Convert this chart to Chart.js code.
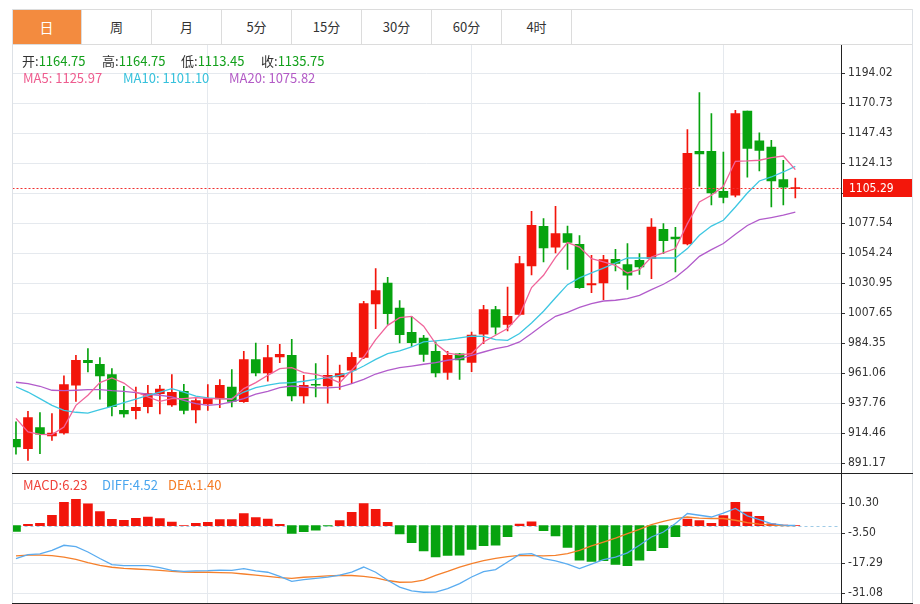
<!DOCTYPE html>
<html>
<head>
<meta charset="utf-8">
<script src="https://cdn.jsdelivr.net/npm/chart.js@4.4.0/dist/chart.umd.min.js"></script>
<style>
  body { margin:0; width:920px; height:604px; overflow:hidden; position:relative; background:#fff;
         font-family:"Noto Sans CJK SC","Noto Sans",sans-serif; }
  .ln { position:absolute; }
  .tab { position:absolute; top:10px; height:34px; width:69px; border-right:1px solid #dcdcdc;
         text-align:center; line-height:34px; font-size:13px; color:#333; }
  .tab.on { background:#f38b3f; color:#fff; font-size:14px; }
  .info { position:absolute; font-size:13px; line-height:16px; white-space:nowrap; color:#333; }
  canvas { position:absolute; left:0; }
</style>
</head>
<body>
<div id="tabs"></div>
<canvas id="price" width="920" height="429" style="top:44px"></canvas>
<canvas id="macd" width="920" height="129" style="top:474px"></canvas>
<div id="overlay"></div>
<script>
// tabs
const tabNames = ["日", "周", "月", "5分", "15分", "30分", "60分", "4时"];

// daily candles
const opens  = [909.8,902.6,918.9,912.4,914.7,951.8,971.2,968.1,960.1,932.3,932.1,935.2,945.3,936.5,947.1,932.6,937.2,941.1,950.4,939.1,
                971.7,961.3,973.7,975.0,943.4,952.5,951.2,958.2,963.4,973.3,1014.9,1031.2,1011.8,992.9,988.5,978.2,961.8,976.1,969.6,991.4,
                1010.5,999.1,1006.7,1044.4,1075.2,1059.1,1069.5,1061.2,1029.6,1031.2,1049.6,1045.5,1048.8,1050.1,1072.9,1066.9,1061.5,1133.5,1133.5,1102.4,
                1099.3,1164.75,1141.5,1136.8,1111.5,1104.5];
const highs  = [923.3,931.6,930.6,929.8,959.0,975.0,980.3,973.3,964.7,951.0,950.4,951.8,951.8,960.1,952.5,941.4,952.3,956.2,963.9,978.2,
                984.6,982.8,983.6,987.5,959.5,968.6,975.0,967.5,977.1,1017.0,1042.4,1035.6,1017.5,1005.1,990.6,985.4,978.2,976.5,993.1,1013.9,
                1013.1,1028.1,1051.9,1086.9,1081.2,1090.7,1075.4,1068.0,1052.7,1052.7,1057.4,1061.8,1054.0,1081.2,1077.3,1074.4,1150.3,1179.0,1162.7,1132.9,
                1165.3,1164.75,1147.7,1142.0,1126.5,1112.7];
const lows   = [898.2,893.5,898.7,909.0,913.8,939.3,962.1,940.9,927.9,926.9,925.6,930.2,929.5,935.4,929.5,922.5,932.3,934.4,934.9,938.5,
                959.0,954.9,969.4,939.6,937.8,942.7,937.8,948.6,953.1,972.5,995.8,999.1,984.6,982.0,970.2,958.2,956.4,956.4,962.4,984.1,
                991.4,993.9,1006.0,1037.4,1047.5,1054.6,1041.8,1027.0,1023.7,1018.3,1040.5,1026.1,1037.9,1034.6,1054.0,1039.7,1060.8,1106.3,1091.8,1093.3,
                1098.0,1113.45,1118.2,1090.2,1091.8,1097.2];
const closes = [903.8,926.7,913.7,914.7,952.3,971.2,969.4,959.0,935.2,929.5,934.7,945.3,948.9,946.3,932.3,939.9,941.1,951.8,939.3,971.7,
                961.3,973.3,975.8,943.4,951.8,951.8,959.5,960.8,973.5,1015.2,1025.3,1007.4,991.1,984.9,975.8,961.3,975.0,971.4,990.8,1010.5,
                996.8,1005.3,1046.3,1076.0,1058.4,1069.5,1062.6,1027.6,1030.7,1049.4,1046.3,1037.2,1043.6,1074.7,1064.1,1065.4,1131.9,1131.4,1101.1,1097.7,
                1162.7,1135.75,1134.2,1110.4,1105.5,1105.29];

// moving averages
const ma5  = [926.1,915.5,913.7,913.5,919.4,936.2,944.0,953.8,957.4,953.5,946.5,942.7,939.3,941.4,941.4,942.2,941.4,941.4,940.9,949.2,
              953.8,959.5,964.7,965.5,961.6,960.3,957.7,953.8,963.4,973.7,987.2,998.3,1004.3,1005.3,997.6,984.1,976.8,975.3,976.4,985.4,
              990.6,995.8,1006.1,1027.6,1037.2,1051.1,1062.6,1059.1,1050.1,1047.5,1044.9,1039.0,1041.6,1051.4,1054.5,1057.9,1077.3,1094.1,1099.3,1106.3,
              1125.7,1125.97,1126.5,1128.6,1129.8,1119.2];
const ma10 = [950.6,946.5,941.4,936.2,932.3,930.8,930.2,932.9,935.4,938.3,941.1,944.0,946.5,949.2,946.5,943.4,941.9,941.4,941.4,946.5,
              950.0,951.8,953.5,953.8,954.9,956.4,957.7,959.5,962.1,966.7,971.9,976.4,978.4,981.5,985.4,986.2,987.2,988.5,990.0,989.8,
              987.2,986.7,991.9,1000.1,1009.2,1019.7,1029.9,1035.1,1039.0,1042.8,1046.7,1050.6,1050.6,1050.6,1050.6,1050.6,1057.9,1068.2,1075.4,1079.9,
              1090.2,1101.10,1110.4,1113.5,1117.4,1121.8];
const ma20 = [954.1,953.1,951.0,947.9,947.6,947.9,948.4,948.4,947.6,947.1,946.1,944.8,944.0,942.7,940.1,937.5,936.2,937.0,938.8,941.4,
              944.8,947.1,950.0,951.2,950.4,949.7,949.7,950.4,953.1,956.4,960.5,963.4,965.5,966.7,968.1,969.4,971.2,972.5,975.0,977.6,
              980.3,982.0,985.4,991.9,998.9,1005.3,1008.4,1012.3,1015.2,1017.2,1017.8,1019.1,1021.6,1026.1,1030.2,1035.4,1043.1,1051.9,1057.1,1061.8,
              1069.0,1075.82,1080.4,1082.0,1083.8,1086.3];

// MACD
const macdHist = [-2.6,0.6,1.1,4.8,10.8,12.1,10.0,6.5,2.9,2.5,3.4,4.0,3.3,1.7,0.1,1.1,1.6,2.8,2.8,5.6,
                  3.7,3.1,0.6,-3.6,-2.7,-2.0,-0.1,2.3,6.2,10.2,7.5,1.6,-3.8,-7.8,-11.6,-14.3,-13.7,-13.5,-10.9,-9.2,
                  -9.0,-5.1,0.7,1.8,-2.3,-4.7,-10.0,-15.8,-16.4,-16.1,-17.8,-18.4,-15.8,-11.5,-10.1,-5.1,3.0,2.4,1.1,4.6,
                  10.7,6.23,4.3,0.9,0.3,0.1];
const diff = [-15.1,-13.3,-13.0,-11.3,-9.0,-9.6,-12.1,-15.1,-17.9,-18.4,-18.4,-18.4,-19.3,-20.5,-21.0,-20.8,-20.7,-20.4,-20.5,-19.7,
              -20.8,-21.4,-23.3,-25.6,-24.8,-24.2,-23.6,-22.7,-21.3,-19.0,-21.4,-25.1,-28.2,-30.0,-30.6,-30.5,-28.9,-26.6,-23.6,-21.1,
              -20.2,-16.7,-13.2,-12.8,-15.1,-16.2,-17.7,-19.7,-17.7,-15.6,-14.4,-12.5,-9.0,-5.2,-2.9,1.0,5.6,4.8,4.0,5.8,
              7.9,4.52,2.8,1.0,0.3,0.1];
const dea  = [-13.9,-13.5,-13.5,-13.8,-14.4,-15.5,-17.0,-18.2,-19.1,-19.6,-19.9,-20.2,-20.5,-21.0,-21.3,-21.4,-21.4,-21.6,-21.7,-22.2,
              -22.7,-23.3,-23.9,-24.2,-23.7,-23.4,-23.1,-22.9,-22.9,-23.3,-24.0,-25.2,-26.0,-25.9,-25.0,-22.8,-21.0,-19.0,-17.4,-16.1,
              -15.0,-14.2,-13.6,-13.8,-13.9,-13.6,-12.8,-11.3,-9.3,-7.5,-5.7,-3.6,-1.7,0.5,2.0,3.3,4.0,3.5,3.3,3.3,
              2.5,1.40,0.7,0.3,0.1,0.05];

// axes
const priceTicks = [891.17,914.46,937.76,961.06,984.35,1007.65,1030.95,1054.24,1077.54,1100.84,1124.13,1147.43,1170.73,1194.02];
const priceTickLabels = ["891.17","914.46","937.76","961.06","984.35","1007.65","1030.95","1054.24","1077.54","1100.84","1124.13","1147.43","1170.73","1194.02"];
const macdTicks = [-31.08,-17.29,-3.50,10.30];
const macdTickLabels = ["-31.08","-17.29","-3.50","10.30"];
const monthStarts = [16, 38, 59];
const shownIndex = 61;

const UP = "#f2150b", DOWN = "#07a30f";
const GRID = "#e5e9ee";
const AXIS_FONT = "'DejaVu Sans Condensed','DejaVu Sans',sans-serif";
Chart.defaults.font.family = AXIS_FONT;
Chart.defaults.font.size = 12;
Chart.defaults.color = "#333";

// page chrome
const lines = [
  [12, 9, 900, 1, "#dcdcdc"], [12, 44, 900, 1, "#dcdcdc"],
  [12, 9, 1, 595, "#dde1e6"], [912, 9, 1, 595, "#dde1e6"],
  [12, 473, 901, 1, "#222"], [12, 603, 901, 1, "#222"]
];
const tabs = document.getElementById("tabs");
tabNames.forEach((t, i) => {
  const d = document.createElement("div");
  d.className = "tab" + (i === 0 ? " on" : "");
  d.style.left = (12 + i * 70) + "px";
  d.textContent = t;
  tabs.appendChild(d);
});
lines.forEach(l => {
  const d = document.createElement("div");
  d.className = "ln";
  d.style.cssText = `left:${l[0]}px;top:${l[1]}px;width:${l[2]}px;height:${l[3]}px;background:${l[4]}`;
  document.body.appendChild(d);
});

// header texts (values of the highlighted candle)
const overlay = document.getElementById("overlay");
function label(x, y, parts) {
  const d = document.createElement("div");
  d.className = "info";
  d.style.left = x + "px";
  d.style.top = y + "px";
  parts.forEach(p => {
    const s = document.createElement("span");
    s.textContent = p[0];
    s.style.color = p[1];
    d.appendChild(s);
  });
  overlay.appendChild(d);
}
const G = "#13a01b";
label(22, 53, [["开:", "#333"], [opens[shownIndex].toFixed(2), G]]);
label(102, 53, [["高:", "#333"], [highs[shownIndex].toFixed(2), G]]);
label(181, 53, [["低:", "#333"], [lows[shownIndex].toFixed(2), G]]);
label(261, 53, [["收:", "#333"], [closes[shownIndex].toFixed(2), G]]);
label(23, 70, [["MA5: " + ma5[shownIndex].toFixed(2), "#ee5c8f"]]);
label(123, 70, [["MA10: " + ma10[shownIndex].toFixed(2), "#36c1dc"]]);
label(229, 70, [["MA20: " + ma20[shownIndex].toFixed(2), "#b35bc6"]]);
label(23, 477, [["MACD:" + macdHist[shownIndex].toFixed(2), "#f0423a"]]);
label(102, 477, [["DIFF:" + diff[shownIndex].toFixed(2), "#4aa6ee"]]);
label(168, 477, [["DEA:" + dea[shownIndex].toFixed(2), "#f57a22"]]);

const idx = closes.map((c, i) => i);
const candleColors = closes.map((c, i) => c >= opens[i] ? UP : DOWN);

function xScale() {
  return {
    type: "linear", min: -0.29, max: 68.81, offset: false,
    grid: { color: GRID, drawTicks: false, offset: false },
    border: { display: false },
    ticks: { display: false },
    afterBuildTicks: s => { s.ticks = monthStarts.map(v => ({ value: v })); },
    afterFit: s => { s.height = 0; }
  };
}
function yScale(min, max, ticks, labels) {
  return {
    position: "right", min: min, max: max, stacked: false,
    grid: { color: GRID, tickColor: "#333", tickLength: 4 },
    border: { color: "#222" },
    ticks: { padding: 3, callback: (v, i) => labels[i] },
    afterBuildTicks: s => { s.ticks = ticks.map(v => ({ value: v })); },
    afterFit: s => { s.width = 79; s.paddingTop = 0; s.paddingBottom = 0; }
  };
}
function lineSet(values, color) {
  return {
    type: "line", data: idx.map(i => ({ x: i, y: values[i] })),
    borderColor: color, borderWidth: 1.3, pointRadius: 0, tension: 0, order: 0, clip: 0
  };
}

const lastPrice = {
  id: "lastPrice",
  afterDraw(chart) {
    const { ctx, chartArea, scales } = chart;
    const last = closes[closes.length - 1];
    const y = Math.round(scales.y.getPixelForValue(last)) + 0.5;
    ctx.save();
    ctx.strokeStyle = "#f03030";
    ctx.lineWidth = 1;
    ctx.setLineDash([2, 2]);
    ctx.beginPath();
    ctx.moveTo(chartArea.left, y);
    ctx.lineTo(chartArea.right, y);
    ctx.stroke();
    ctx.setLineDash([]);
    ctx.fillStyle = "#f3170b";
    ctx.fillRect(chartArea.right + 2, y - 9.5, 69, 18);
    ctx.fillStyle = "#fff";
    ctx.font = "12px " + AXIS_FONT;
    ctx.textBaseline = "middle";
    ctx.fillText(last.toFixed(2), chartArea.right + 8, y);
    ctx.restore();
  }
};

new Chart(document.getElementById("price"), {
  type: "bar",
  data: {
    datasets: [
      lineSet(ma5, "#f0649a"),
      lineSet(ma10, "#3ec7e2"),
      lineSet(ma20, "#b25ccb"),
      { data: idx.map(i => ({ x: i, y: [opens[i], closes[i]] })), backgroundColor: candleColors,
        barThickness: 9, grouped: false, order: 1, clip: 0 },
      { data: idx.map(i => ({ x: i, y: [lows[i], highs[i]] })), backgroundColor: candleColors,
        barThickness: 1, grouped: false, order: 2, clip: 0 }
    ]
  },
  options: {
    responsive: false, animation: false,
    layout: { padding: { left: 12.5, right: 0, top: 0, bottom: 0 } },
    plugins: { legend: { display: false }, tooltip: { enabled: false } },
    scales: { x: xScale(), y: yScale(883.64, 1216.77, priceTicks, priceTickLabels) }
  },
  plugins: [lastPrice]
});

const zeroLine = {
  id: "zeroLine",
  beforeDatasetsDraw(chart) {
    const { ctx, chartArea, scales } = chart;
    const y = Math.round(scales.y.getPixelForValue(0)) + 0.5;
    ctx.save();
    ctx.strokeStyle = "#9fcbe6";
    ctx.setLineDash([3, 3]);
    ctx.beginPath();
    ctx.moveTo(chartArea.left, y);
    ctx.lineTo(chartArea.right - 3, y);
    ctx.stroke();
    ctx.restore();
  }
};

new Chart(document.getElementById("macd"), {
  type: "bar",
  data: {
    datasets: [
      lineSet(diff, "#5aacf0"),
      lineSet(dea, "#f5802c"),
      { data: idx.map(i => ({ x: i, y: macdHist[i] })),
        backgroundColor: macdHist.map(v => v >= 0 ? UP : DOWN),
        barThickness: 9, grouped: false, order: 1, clip: 0 }
    ]
  },
  options: {
    responsive: false, animation: false,
    layout: { padding: { left: 12.5, right: 0, top: 0, bottom: 0 } },
    plugins: { legend: { display: false }, tooltip: { enabled: false } },
    scales: { x: xScale(), y: yScale(-35.54, 23.77, macdTicks, macdTickLabels) }
  },
  plugins: [zeroLine]
});
</script>
</body>
</html>
